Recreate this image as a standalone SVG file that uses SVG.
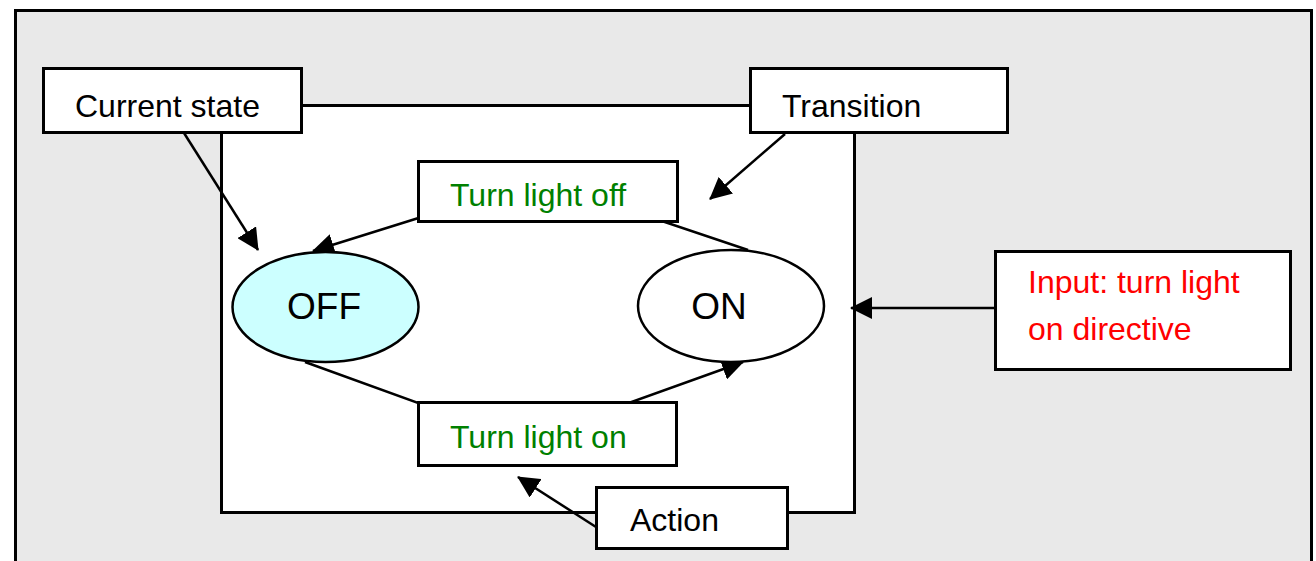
<svg xmlns="http://www.w3.org/2000/svg" width="1316" height="561" viewBox="0 0 1316 561">
  <style>
    .box { fill: #ffffff; stroke: #000000; stroke-width: 3; }
    .state { stroke: #000000; stroke-width: 2.5; }
    .lbl { font-family: "Liberation Sans", Arial, sans-serif; font-size: 32px; fill: #000000; }
    .act { fill: #008000; }
    .inp { fill: #ff0000; }
    .big { font-size: 37px; text-anchor: middle; }
    .conn { fill: none; stroke: #000000; stroke-width: 2.5; }
  </style>
  <defs>
    <marker id="arrow" markerUnits="userSpaceOnUse" markerWidth="22" markerHeight="22" refX="21" refY="11" orient="auto">
      <path d="M0,0 L22,11 L0,22 Z" fill="#000000"/>
    </marker>
  </defs>

  <!-- background panel -->
  <rect x="0" y="0" width="1316" height="561" fill="#ffffff"/>
  <rect x="15.5" y="10.5" width="1296" height="560" fill="#e9e9e9" stroke="#000000" stroke-width="3"/>

  <!-- state machine area -->
  <rect id="machine" class="box" x="221.5" y="105.5" width="633" height="407"/>

  <!-- connectors -->
  <g id="connectors">
    <path class="conn" d="M748,250 L540,180 L313,251" marker-end="url(#arrow)"/>
    <path class="conn" d="M305,362 L523,441 L743,362" marker-end="url(#arrow)"/>
    <line class="conn" x1="184" y1="133" x2="258" y2="250" marker-end="url(#arrow)"/>
    <line class="conn" x1="785" y1="134" x2="710" y2="199" marker-end="url(#arrow)"/>
    <line class="conn" x1="596" y1="527" x2="518" y2="477" marker-end="url(#arrow)"/>
    <line class="conn" x1="995" y1="308" x2="851" y2="308" marker-end="url(#arrow)"/>
  </g>

  <g id="state-off">
    <ellipse class="state" cx="325.5" cy="307" rx="93" ry="55" fill="#ccffff"/>
    <text class="lbl big" x="324" y="319">OFF</text>
  </g>

  <g id="state-on">
    <ellipse class="state" cx="731" cy="306" rx="93" ry="56" fill="#ffffff"/>
    <text class="lbl big" x="719" y="319">ON</text>
  </g>

  <g id="turn-off">
    <rect class="box" x="418.5" y="161.5" width="259" height="60"/>
    <text class="lbl act" x="450" y="206">Turn light off</text>
  </g>

  <g id="turn-on">
    <rect class="box" x="418.5" y="402.5" width="258" height="63"/>
    <text class="lbl act" x="450" y="448">Turn light on</text>
  </g>

  <g id="current-state">
    <rect class="box" x="43.5" y="68.5" width="258" height="64"/>
    <text class="lbl" x="75" y="117">Current state</text>
  </g>

  <g id="transition">
    <rect class="box" x="750.5" y="68.5" width="257" height="64"/>
    <text class="lbl" x="782" y="117">Transition</text>
  </g>

  <g id="action">
    <rect class="box" x="596.5" y="487.5" width="191" height="61"/>
    <text class="lbl" x="630" y="531">Action</text>
  </g>

  <g id="input">
    <rect class="box" x="995.5" y="251.5" width="295" height="118"/>
    <text class="lbl inp" x="1028" y="293">Input: turn light</text>
    <text class="lbl inp" x="1028" y="340">on directive</text>
  </g>
</svg>
